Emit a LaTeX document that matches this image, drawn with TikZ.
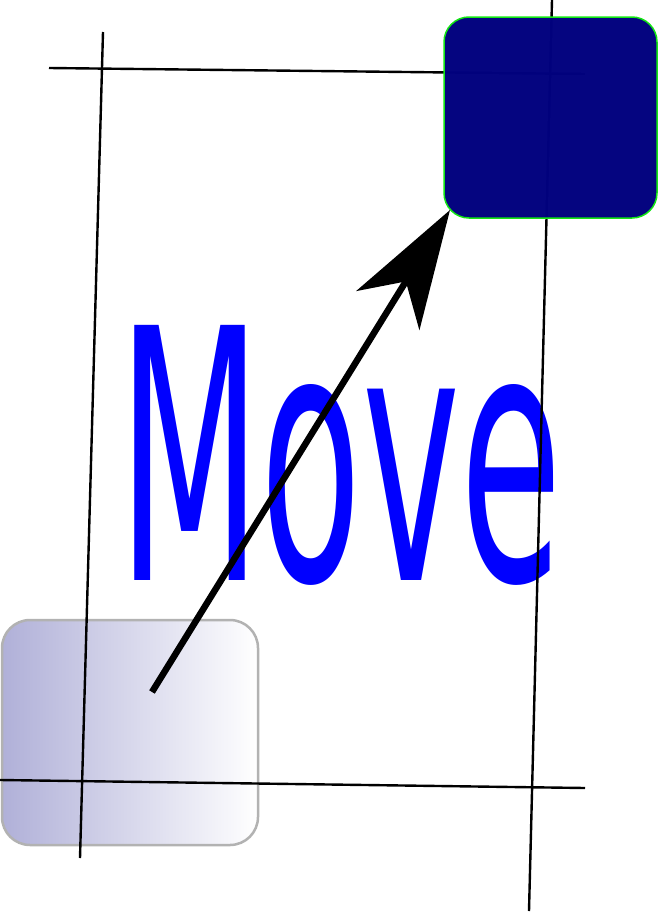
\documentclass[tikz,border=0pt]{standalone}
\usepackage{fontspec}
\usepackage{xcolor}
\usepackage{tikz}
\usetikzlibrary{arrows.meta,shapes.misc}
\newfontfamily\movefont{DejaVu Sans}
\definecolor{startblue}{RGB}{176,176,216}
\definecolor{goalblue}{RGB}{2,2,126}
\definecolor{goalrim}{RGB}{20,230,20}

\begin{document}
\begin{tikzpicture}[
  x=1pt, y=-1pt,
  grid/.style={line width=2.4pt, black},
  startbox/.style={draw=black!30, line width=2.5pt, rounded corners=28pt,
    left color=startblue, right color=white, minimum width=256pt, minimum height=225pt},
  goalbox/.style={draw=goalrim, line width=1.5pt, rounded corners=25pt, fill=goalblue,
    fill opacity=0.99, minimum width=213pt, minimum height=201pt},
  arr/.style={-{Stealth[length=118pt, width=74pt, inset=34pt]}, line width=6.5pt},
]
\useasboundingbox (0,0) rectangle (658,913);
\node[startbox] (start) at (130,732.5) {};
\node[anchor=base west, inner sep=0pt, text=blue, xscale=0.473,
      font=\movefont\fontsize{350}{360}\selectfont] (label) at (118,580) {Move};
% grid lines
\draw[grid] (49,68) -- (585,74);
\draw[grid] (103,32) -- (80,858);
\draw[grid] (0,780) -- (585,788);
\draw[grid] (552,0) -- (529,911);
\coordinate (from) at (152,692);
\coordinate (to) at (450,210);
\draw[arr] (from) -- (to);
\node[goalbox] (goal) at (550.5,117.5) {};
\end{tikzpicture}
\end{document}
